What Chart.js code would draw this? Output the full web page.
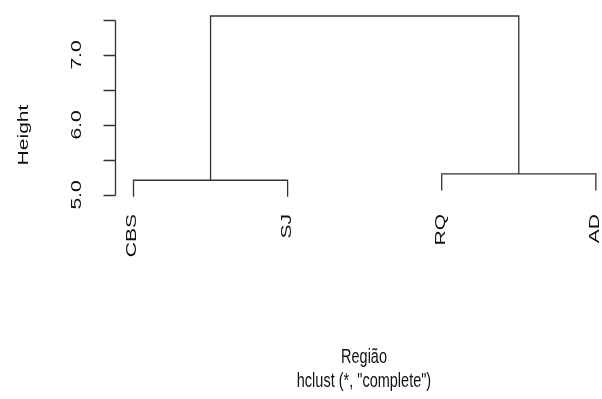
<!DOCTYPE html>
<html>
<head>
<meta charset="utf-8">
<script src="https://cdn.jsdelivr.net/npm/chart.js@4/dist/chart.umd.min.js"></script>
<style>
html,body{margin:0;padding:0;background:#fff;}
#wrap{width:602px;height:399px;position:relative;}
</style>
</head>
<body>
<div id="wrap"><canvas id="c"></canvas></div>
<script>
// Leaf labels in plotting order
const leafLabels = ['CBS', 'SJ', 'RQ', 'AD'];
// Merge structure (R hclust convention: negative = leaf index, positive = earlier merge)
const mergeLeft  = [-1, -3, 1];
const mergeRight = [-2, -4, 2];
// Merge heights
const mergeHeights = [5.21, 5.30, 7.557];
// Y axis ticks
const yTicks = [5.0, 5.5, 6.0, 6.5, 7.0, 7.5];
const yTickLabels = ['5.0', '', '6.0', '', '7.0', ''];
const xTitle = 'Região';
const subTitle = 'hclust (*, "complete")';
const yTitle = 'Height';

const hang = 0.1 * (Math.max(...mergeHeights) - Math.min(...mergeHeights));
const LINE = '#333333';
const FONT = '"Liberation Sans", Arial, sans-serif';
const SY = 1.45; // vertical stretch of glyphs seen in the reference

// compute positions of merges
const nodeX = [], nodeY = [];
function childPos(c, h) {
  if (c < 0) return { x: -c, y: h - hang };
  return { x: nodeX[c - 1], y: nodeY[c - 1] };
}
const segData = [];
for (let i = 0; i < mergeHeights.length; i++) {
  const h = mergeHeights[i];
  const a = childPos(mergeLeft[i], h), b = childPos(mergeRight[i], h);
  nodeX.push((a.x + b.x) / 2); nodeY.push(h);
  segData.push([{x: a.x, y: a.y}, {x: a.x, y: h}, {x: b.x, y: h}, {x: b.x, y: b.y}]);
}
const datasets = segData.map(d => ({
  data: d, showLine: true, borderColor: LINE, borderWidth: 1.3,
  pointRadius: 0, fill: false, tension: 0
}));

function txt(ctx, s, x, y, rot, align) {
  ctx.save();
  ctx.translate(x, y);
  ctx.scale(1, SY);
  if (rot) ctx.rotate(-Math.PI / 2);
  ctx.textAlign = align; ctx.textBaseline = 'middle';
  ctx.fillText(s, 0, 0);
  ctx.restore();
}

const decor = {
  id: 'decor',
  afterDraw(chart) {
    const ctx = chart.ctx;
    const ys = chart.scales.y, xs = chart.scales.x;
    const axX = Math.round(xs.getPixelForValue(0.88)) + 0.5;
    ctx.save();
    ctx.strokeStyle = LINE; ctx.lineWidth = 1.3;
    ctx.beginPath();
    ctx.moveTo(axX, Math.round(ys.getPixelForValue(yTicks[0])) + 0.5);
    ctx.lineTo(axX, Math.round(ys.getPixelForValue(yTicks[yTicks.length - 1])) + 0.5);
    yTicks.forEach(v => {
      const py = Math.round(ys.getPixelForValue(v)) + 0.5;
      ctx.moveTo(axX, py); ctx.lineTo(axX - 12, py);
    });
    ctx.stroke();
    ctx.fillStyle = '#111';
    ctx.font = '14.5px ' + FONT;
    yTicks.forEach((v, i) => {
      if (!yTickLabels[i]) return;
      txt(ctx, yTickLabels[i], 77, ys.getPixelForValue(v), true, 'center');
    });
    txt(ctx, yTitle, 24, 135, true, 'center');
    leafLabels.forEach((lab, i) => {
      txt(ctx, lab, xs.getPixelForValue(i + 1) - 1, 214, true, 'right');
    });
    txt(ctx, xTitle, 364, 357, false, 'center');
    txt(ctx, subTitle, 364, 381, false, 'center');
    ctx.restore();
  }
};

new Chart(document.getElementById('c'), {
  type: 'scatter',
  data: { datasets },
  options: {
    responsive: true, maintainAspectRatio: false, animation: false,
    layout: { padding: { left: 115, top: 9, right: 0, bottom: 195 } },
    plugins: { legend: { display: false }, tooltip: { enabled: false } },
    scales: {
      x: { type: 'linear', min: 0.88, max: 4.04, display: false },
      y: { type: 'linear', min: 4.871, max: 7.657, display: false }
    }
  },
  plugins: [decor]
});
</script>
</body>
</html>
